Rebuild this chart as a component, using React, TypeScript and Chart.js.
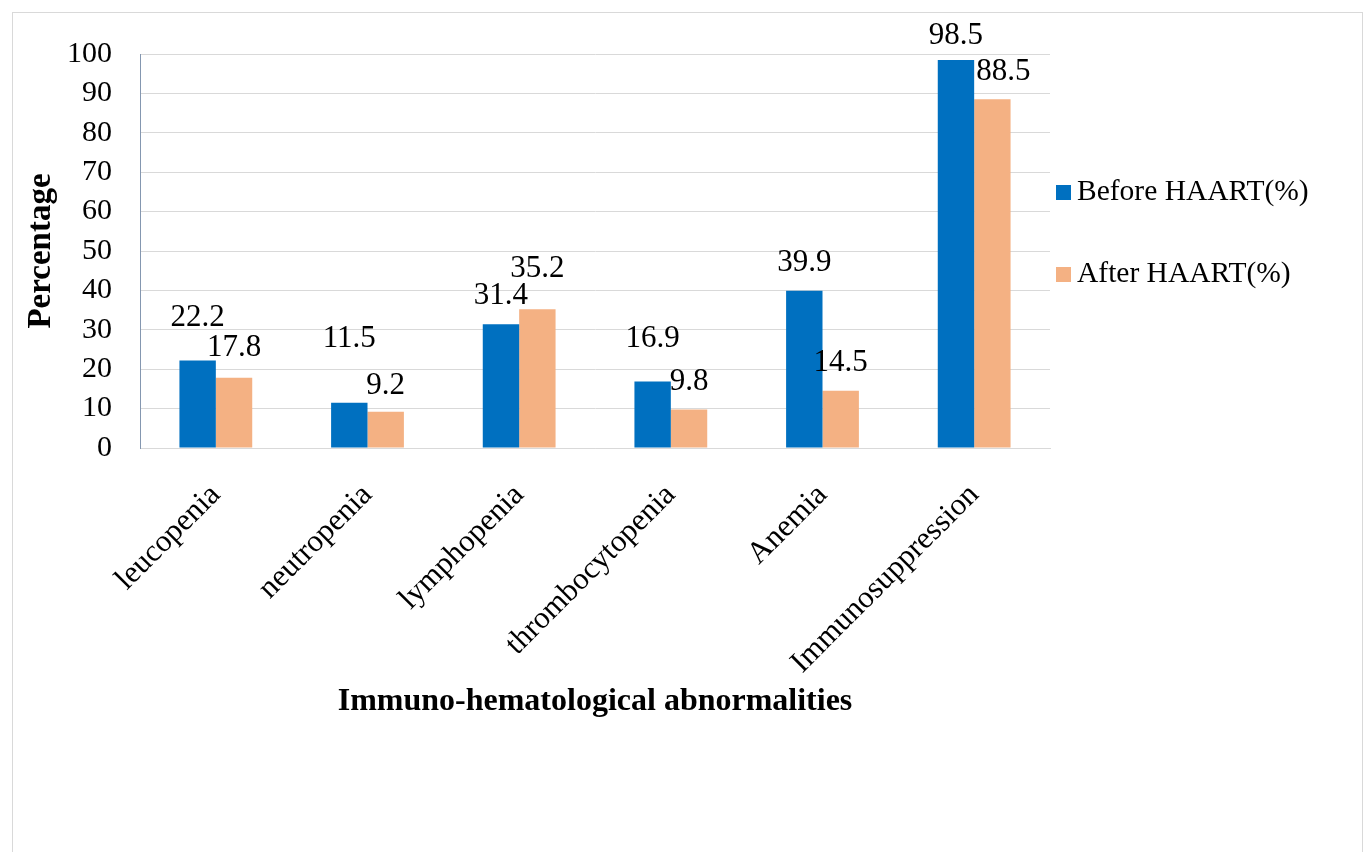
import React, { useEffect, useRef } from "react";
import { Chart, registerables } from "chart.js";

Chart.register(...registerables);

const categories = [
  "leucopenia",
  "neutropenia",
  "lymphopenia",
  "thrombocytopenia",
  "Anemia",
  "Immunosuppression",
];
const beforeHaart = [22.2, 11.5, 31.4, 16.9, 39.9, 98.5];
const afterHaart = [17.8, 9.2, 35.2, 9.8, 14.5, 88.5];
const seriesNames = ["Before HAART(%)", "After HAART(%)"];
const yTicks = [0, 10, 20, 30, 40, 50, 60, 70, 80, 90, 100];

// label nudges (styling only): distance of label centre above bar top, and x shift
const beforeLabelLift = [43, 64, 28, 43, 28, 24];
const afterLabelLift = [30, 26, 40, 28, 28, 27];
const beforeLabelShift = [0, 0, 0, 0, 0, 0];
const afterLabelShift = [0, 0, 0, 0, 0, 11];

const FONT = "'Liberation Serif', 'Times New Roman', serif";

export default function App() {
  const ref = useRef<HTMLCanvasElement | null>(null);

  useEffect(() => {
    if (!ref.current) return;
    const lifts = [beforeLabelLift, afterLabelLift];
    const shifts = [beforeLabelShift, afterLabelShift];

    const labelPlugin = {
      id: "valueLabels",
      afterDatasetsDraw(chart: any) {
        const ctx = chart.ctx;
        ctx.save();
        ctx.font = `31px ${FONT}`;
        ctx.fillStyle = "#000";
        ctx.textAlign = "center";
        ctx.textBaseline = "middle";
        chart.data.datasets.forEach((ds: any, i: number) => {
          const meta = chart.getDatasetMeta(i);
          meta.data.forEach((el: any, j: number) => {
            const v = ds.data[j];
            ctx.fillText(String(v), el.x + shifts[i][j], el.y - lifts[i][j]);
          });
        });
        ctx.restore();
      },
    };

    const legendPlugin = {
      id: "sideLegend",
      afterDraw(chart: any) {
        const ctx = chart.ctx;
        const area = chart.chartArea;
        ctx.save();
        ctx.font = `29.5px ${FONT}`;
        ctx.textBaseline = "middle";
        ctx.textAlign = "left";
        const rows = [138.5, 220.5];
        chart.data.datasets.forEach((ds: any, i: number) => {
          const cy = area.top + rows[i];
          ctx.fillStyle = ds.backgroundColor;
          ctx.fillRect(area.right + 6, cy - 7.5, 15, 15);
          ctx.fillStyle = "#000";
          ctx.fillText(ds.label, area.right + 27, cy);
        });
        ctx.restore();
      },
    };

    const chart = new Chart(ref.current, {
      type: "bar",
      data: {
        labels: categories,
        datasets: [
          {
            label: seriesNames[0],
            data: beforeHaart,
            backgroundColor: "#0070C0",
            categoryPercentage: 0.48,
            barPercentage: 1.0,
          },
          {
            label: seriesNames[1],
            data: afterHaart,
            backgroundColor: "#F4B183",
            categoryPercentage: 0.48,
            barPercentage: 1.0,
          },
        ],
      },
      options: {
        responsive: false,
        animation: false,
        layout: { padding: { left: 4, top: 41, right: 312, bottom: 127 } },
        plugins: {
          legend: { display: false },
          tooltip: { enabled: false },
        },
        scales: {
          x: {
            grid: { display: false, drawTicks: false },
            border: { display: true, color: "#d9d9d9" },
            ticks: {
              color: "#000",
              font: { family: FONT, size: 31 },
              minRotation: 45,
              maxRotation: 45,
              padding: 29,
              autoSkip: false,
            },
            title: {
              display: true,
              text: "Immuno-hematological abnormalities",
              color: "#000",
              font: { family: FONT, size: 32, weight: "bold" },
              padding: { top: 4, bottom: 4 },
            },
            afterFit(scale: any) {
              scale.height = 277;
            },
          },
          y: {
            min: 0,
            max: 100,
            afterBuildTicks(scale: any) {
              scale.ticks = yTicks.map((v) => ({ value: v }));
            },
            grid: { color: "#d9d9d9", lineWidth: 1, drawTicks: false },
            border: { display: true, color: "#8497B0", width: 1 },
            ticks: {
              color: "#000",
              font: { family: FONT, size: 30 },
              padding: 28,
              autoSkip: false,
              stepSize: 10,
            },
            title: {
              display: true,
              text: "Percentage",
              color: "#000",
              font: { family: FONT, size: 33, weight: "bold" },
              padding: { top: 5, bottom: 4 },
            },
            afterFit(scale: any) {
              scale.width = 123;
              scale.paddingTop = 0;
              scale.paddingBottom = 0;
            },
          },
        },
      },
      plugins: [labelPlugin, legendPlugin],
    });
    return () => chart.destroy();
  }, []);

  return (
    <div
      style={{
        position: "fixed",
        left: 0,
        top: 0,
        width: 1369,
        height: 852,
        overflow: "hidden",
        background: "#fff",
      }}
    >
      <div
        style={{
          position: "absolute",
          left: 12,
          top: 12,
          width: 1351,
          height: 880,
          border: "1px solid #d9d9d9",
          boxSizing: "border-box",
          background: "#fff",
        }}
      >
        <canvas ref={ref} width={1349} height={839} style={{ display: "block" }} />
      </div>
    </div>
  );
}
